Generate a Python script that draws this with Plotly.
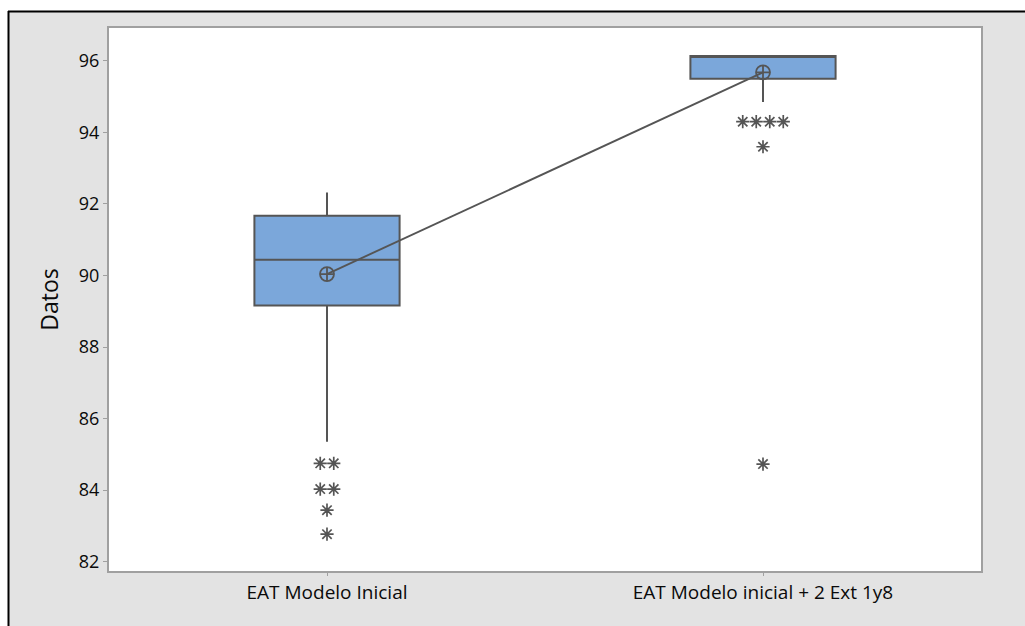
import plotly.graph_objects as go
from collections import Counter

# Group labels
categories = ["EAT Modelo Inicial", "EAT Modelo inicial + 2 Ext 1y8"]

# Box summary statistics per group
q1 = [89.16, 95.50]
median = [90.44, 96.14]
q3 = [91.67, 96.14]
lower_whisker = [85.35, 94.85]
upper_whisker = [92.32, 96.14]
means = [90.04, 95.68]

# Outlying observations per group
outliers_1 = [84.75, 84.75, 84.03, 84.03, 83.44, 82.77]
outliers_2 = [94.30, 94.30, 94.30, 94.30, 93.60, 84.73]

y_ticks = [82, 84, 86, 88, 90, 92, 94, 96]

BOX_FILL = "#7BA7DA"
DARK = "#555555"
FRAME = "#A0A0A0"
PANEL = "#E3E3E3"
FONT = "Open Sans"

# Figure geometry (pixels)
W, H = 1025, 626
L, R, T, B = 109, 44, 28, 55
pw, ph = W - L - R, H - T - B


def px_x(px):
    return (px - L) / pw


def px_y(py):
    return (H - B - py) / ph


def spread(values, center, step=0.031):
    """Place tied outliers side by side around the group center."""
    xs, ys = [], []
    for v, n in Counter(values).items():
        for i in range(n):
            xs.append(center + (i - (n - 1) / 2) * step)
            ys.append(v)
    return xs, ys


fig = go.Figure()

for i in range(len(categories)):
    fig.add_trace(go.Box(
        x=[i], q1=[q1[i]], median=[median[i]], q3=[q3[i]],
        lowerfence=[lower_whisker[i]], upperfence=[upper_whisker[i]],
        width=0.333, whiskerwidth=0, boxpoints=False,
        fillcolor=BOX_FILL, line=dict(color=DARK, width=2),
        showlegend=False, hoverinfo="skip",
    ))

for i, outs in enumerate([outliers_1, outliers_2]):
    xs, ys = spread(outs, i)
    fig.add_trace(go.Scatter(
        x=xs, y=ys, mode="markers", showlegend=False,
        marker=dict(symbol="asterisk-open", size=11, color=DARK,
                    line=dict(color=DARK, width=1.7)),
    ))

# Mean connect line with mean symbols
fig.add_trace(go.Scatter(
    x=list(range(len(categories))), y=means, mode="lines+markers",
    showlegend=False,
    line=dict(color=DARK, width=1.9),
    marker=dict(symbol="circle-cross-open", size=14, color=DARK,
                line=dict(color=DARK, width=1.8)),
))

shapes = [
    # white margin above and left of the panel
    dict(type="rect", xref="paper", yref="paper", layer="below",
         x0=px_x(0), x1=px_x(W), y0=px_y(11), y1=px_y(0),
         fillcolor="white", line=dict(width=0)),
    dict(type="rect", xref="paper", yref="paper", layer="below",
         x0=px_x(0), x1=px_x(8), y0=px_y(H), y1=px_y(0),
         fillcolor="white", line=dict(width=0)),
    # black panel edges
    dict(type="line", xref="paper", yref="paper",
         x0=px_x(8), x1=px_x(W), y0=px_y(11.5), y1=px_y(11.5),
         line=dict(color="black", width=2)),
    dict(type="line", xref="paper", yref="paper",
         x0=px_x(8.5), x1=px_x(8.5), y0=px_y(11), y1=px_y(H),
         line=dict(color="black", width=2)),
]

fig.update_layout(
    width=W, height=H,
    margin=dict(l=L, r=R, t=T, b=B),
    paper_bgcolor=PANEL, plot_bgcolor="white",
    font=dict(family=FONT, color="#0a0a0a"),
    shapes=shapes,
    xaxis=dict(
        range=[-0.5, 1.5], tickvals=list(range(len(categories))),
        ticktext=categories, tickfont=dict(size=19),
        ticks="outside", ticklen=3, tickcolor=FRAME,
        showgrid=False, zeroline=False,
        showline=True, mirror=True, linecolor=FRAME, linewidth=2,
    ),
    yaxis=dict(
        range=[81.74, 96.92], tickvals=y_ticks,
        tickfont=dict(size=18),
        ticks="outside", ticklen=4, tickcolor=FRAME,
        showgrid=False, zeroline=False,
        showline=True, mirror=True, linecolor=FRAME, linewidth=2,
        title=dict(text="Datos", font=dict(size=23), standoff=14),
    ),
)

fig.write_html("out.html")
